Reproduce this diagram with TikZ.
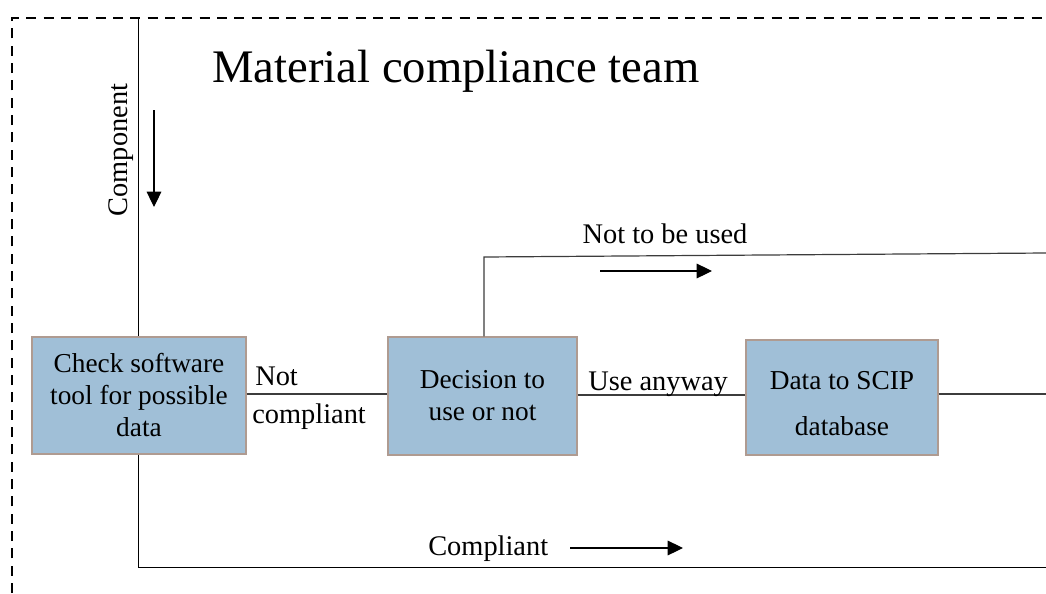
\documentclass[tikz,border=0pt]{standalone}
\usepackage{fontspec}
\setmainfont{Liberation Serif}
\usetikzlibrary{arrows.meta}
\definecolor{boxfill}{RGB}{160,191,215}
\definecolor{boxline}{RGB}{175,155,145}
\definecolor{wire}{RGB}{60,60,60}
\begin{document}
\begin{tikzpicture}[x=0.75pt,y=-0.75pt,
  procbox/.style={draw=boxline,line width=0.9pt,fill=boxfill,align=center,
    inner sep=0pt,font=\fontsize{20.5}{24}\selectfont},
  lbl/.style={inner sep=0pt,font=\fontsize{21.3}{25}\selectfont},
  wireline/.style={draw=wire,line width=0.9pt},
  flowarrow/.style={draw=black,line width=0.8pt,-{Triangle[length=11.5pt,width=11pt]}},
  frame/.style={draw=black,line width=1.8pt,dash pattern=on 7.5pt off 5.5pt}]
\useasboundingbox (0,0) rectangle (1046,593);

% team boundary
\coordinate (corner) at (12,18);
\draw[frame] (12,593) -- (corner) -- (1046,18);

% title
\node[anchor=base west,inner sep=0pt,font=\fontsize{35}{40}\selectfont] (title)
  at (212,82) {Material compliance team};

% process steps
\node[procbox,minimum width=160.5pt,minimum height=87.75pt] (check) at (139,395.5)
  {Check software\\tool for possible\\data};
\node[procbox,minimum width=141.75pt,minimum height=88.5pt] (decide) at (482.5,396)
  {Decision to\\use or not};
\node[procbox,minimum width=144pt,minimum height=86.25pt] (scip) at (842,397.5) {};
\node[inner sep=0pt,align=center,font=\fontsize{20.5}{34.5}\selectfont] (sciptext)
  at (842,404) {Data to SCIP\\database};

% incoming component
\coordinate (compin) at (138,18);
\draw[wireline,line width=0.75pt,draw=black] (compin) -- (check.north -| compin);
\node[lbl,rotate=90,anchor=base] (complbl) at (127,150) {Component};
\coordinate (ca1) at (154,110);
\coordinate (ca2) at (154,207);
\draw[flowarrow] (ca1) -- (ca2);

% not compliant branch
\draw[wireline] (check.east |- 0,394) -- (decide.west |- 0,394);
\node[lbl,anchor=base west] (notlbl) at (255,385) {Not};
\node[lbl,anchor=base west] (nclbl) at (252,423) {compliant};

% use anyway branch
\draw[wireline] (decide.east |- 0,395) -- (scip.west |- 0,395);
\node[lbl,anchor=base west] (uselbl) at (588,390) {Use anyway};
\coordinate (scipout) at (1046,394);
\draw[wireline] (scip.east |- scipout) -- (scipout);

% not to be used branch
\coordinate (nbend) at (484,257);
\coordinate (nout) at (1046,253);
\draw[wireline] (decide.north -| nbend) -- (nbend) -- (nout);
\node[lbl,anchor=base] (nubl) at (665,243) {Not to be used};
\coordinate (na1) at (600,271);
\coordinate (na2) at (712,271);
\draw[flowarrow] (na1) -- (na2);

% compliant branch
\coordinate (cbend) at (138,567);
\coordinate (cout) at (1046,567);
\draw[wireline,draw=black,line width=0.75pt] (check.south -| cbend) -- (cbend) -- (cout);
\node[lbl,anchor=base west] (clbl) at (428,555) {Compliant};
\coordinate (cp1) at (570,548);
\coordinate (cp2) at (683,548);
\draw[flowarrow] (cp1) -- (cp2);
\end{tikzpicture}
\end{document}
